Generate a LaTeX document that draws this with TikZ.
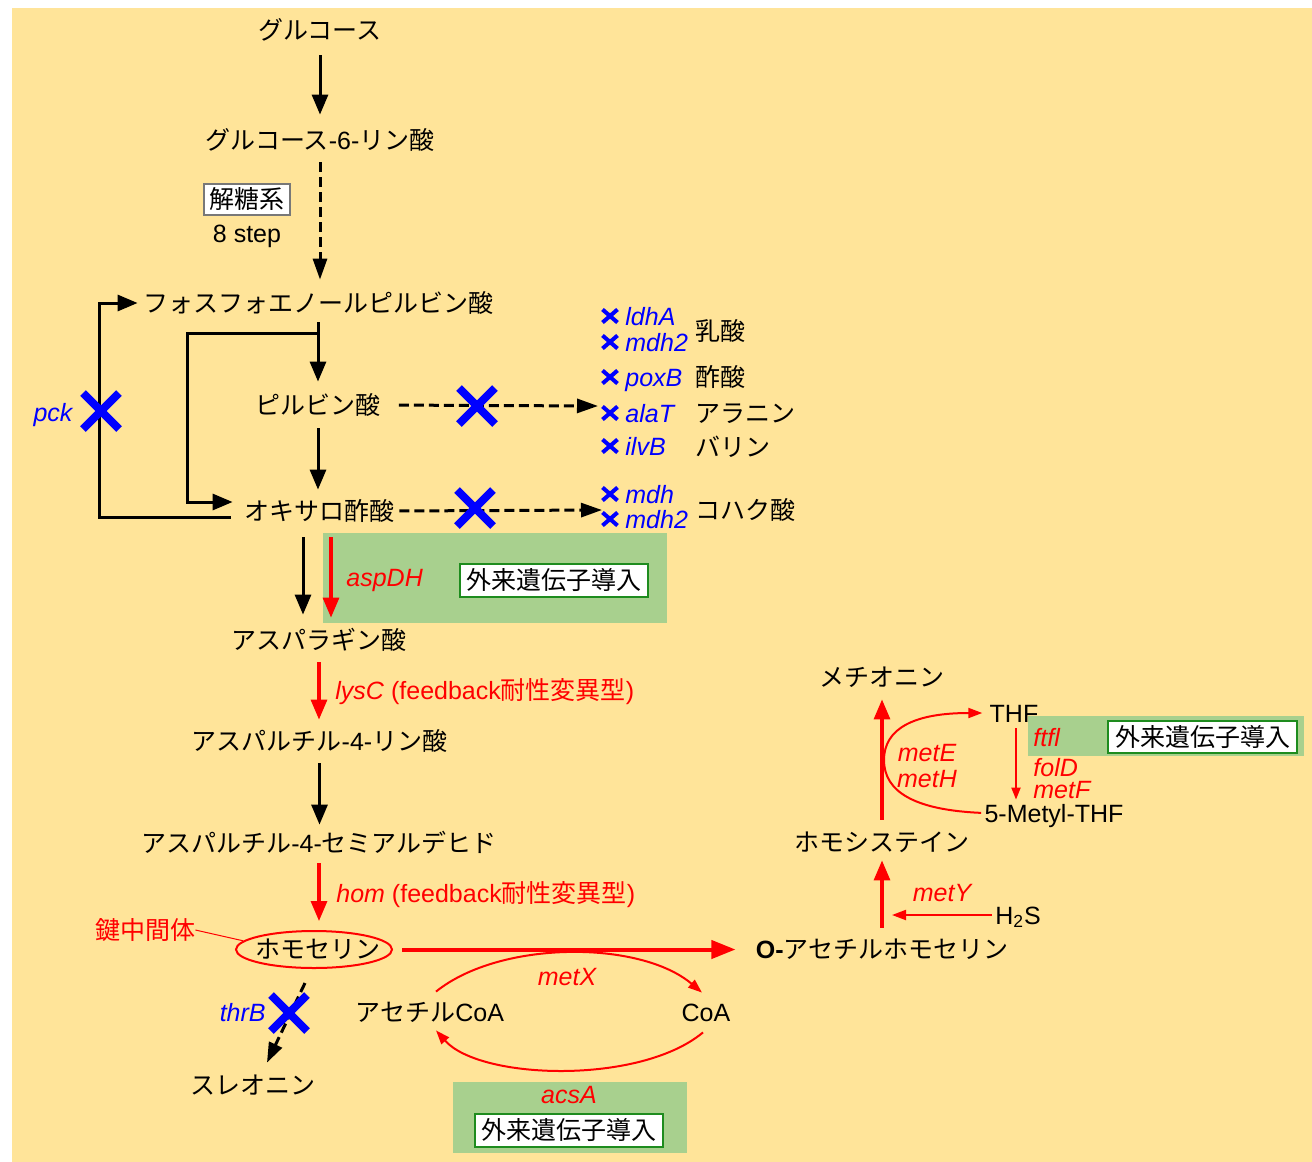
\documentclass[tikz,border=0pt]{standalone}
\usepackage{fontspec}
\setmainfont{Liberation Sans}
\newfontfamily\jpfont{Noto Sans CJK JP}
\usetikzlibrary{arrows.meta,shapes.geometric,calc}
\newcommand{\J}[1]{{\jpfont #1}}
\newcommand{\basefont}{\fontsize{12.5pt}{15pt}\selectfont}
\definecolor{bgyellow}{RGB}{255,228,153}
\definecolor{genegreen}{RGB}{168,208,142}
\definecolor{boxgreen}{RGB}{30,140,30}
\definecolor{kored}{RGB}{255,0,0}
\definecolor{koblue}{RGB}{0,0,255}
\definecolor{framegray}{RGB}{120,120,120}

\tikzset{
  lbl/.style={inner sep=0pt, font=\basefont, text height=11pt, text depth=2pt},
  redlbl/.style={lbl, text=kored, font=\basefont\itshape},
  bluelbl/.style={lbl, text=koblue, font=\basefont\itshape},
  introbox/.style={lbl, draw=boxgreen, line width=0.9pt, fill=white,
    minimum width=94pt, minimum height=16.5pt},
  blk/.style={line width=1.5pt, -{Triangle[length=10pt,width=8pt]}},
  blkdash/.style={line width=1.5pt, dash pattern=on 5pt off 2.5pt,
    -{Triangle[length=10.5pt,width=7pt]}},
  redthick/.style={line width=1.6pt, draw=kored, -{Triangle[length=10pt,width=8pt]}},
  redthin/.style={line width=1pt, draw=kored, -{Triangle[length=7pt,width=5pt]}},
  bigcross/.pic={\draw[koblue, line width=4pt] (-18,-18) -- (18,18) (-18,18) -- (18,-18);},
  smallcross/.pic={\draw[koblue, line width=2pt] (-7.5,-6.5) -- (7.5,6.5) (-7.5,6.5) -- (7.5,-6.5);}
}

\begin{document}
\begin{tikzpicture}[x=0.5pt, y=-0.5pt]
\useasboundingbox (0,0) rectangle (1312,1162);
\fill[bgyellow] (12,8) rectangle (1312,1162);

% panels marking introduced foreign genes
\fill[genegreen] (323,533) rectangle (667,623);
\fill[genegreen] (1028,716) rectangle (1304,756);
\fill[genegreen] (453,1082) rectangle (687,1153);

% main pathway metabolites
\node[lbl] (glc) at (320,30) {\J{グルコース}};
\node[lbl] (g6p) at (320,140) {\J{グルコース}-6-\J{リン酸}};
\node[lbl, draw=framegray, fill=white, line width=0.6pt, minimum width=43pt,
  minimum height=15.5pt] (glyco) at (247,199.5) {\J{解糖系}};
\node[lbl] (steps) at (247,233) {8 step};
\node[lbl] (pep) at (318,303) {\J{フォスフォエノールピルビン酸}};
\node[lbl] (pyr) at (318,405) {\J{ピルビン酸}};
\node[lbl] (oaa) at (319,511) {\J{オキサロ酢酸}};
\node[lbl] (asp) at (319,640) {\J{アスパラギン酸}};
\node[lbl] (asp4p) at (319.5,741) {\J{アスパルチル}-4-\J{リン酸}};
\node[lbl] (asa) at (319,843) {\J{アスパルチル}-4-\J{セミアルデヒド}};
\node[lbl] (hse) at (318,949) {\J{ホモセリン}};
\node[ellipse, draw=kored, line width=1pt, minimum width=78pt, minimum height=18.5pt,
  inner sep=0pt] (hsering) at (314,949.5) {};
\node[lbl, text=kored] (key) at (145,930) {\J{鍵中間体}};
\node[lbl] (thr) at (253,1085) {\J{スレオニン}};
\node[lbl] (oah) at (882,949) {\textbf{O-}\J{アセチルホモセリン}};
\node[lbl] (hcy) at (882,842) {\J{ホモシステイン}};
\node[lbl] (met) at (882,677) {\J{メチオニン}};
\node[lbl] (thf) at (1014,713) {THF};
\node[lbl] (mthf) at (1054,813) {5-Metyl-THF};
\node[lbl] (h2s) at (1018,915) {H\textsubscript{2}S};
\node[lbl] (accoa) at (430,1012) {\J{アセチル}CoA};
\node[lbl] (coa) at (706,1012) {CoA};

% deleted side pathways
\pic at (610,316) {smallcross};
\node[bluelbl, anchor=west] (ldhA) at (625,316) {ldhA};
\pic at (610,342) {smallcross};
\node[bluelbl, anchor=west] (mdhtwoA) at (625,342) {mdh2};
\pic at (610,377) {smallcross};
\node[bluelbl, anchor=west] (poxB) at (625,377) {poxB};
\pic at (610,413) {smallcross};
\node[bluelbl, anchor=west] (alaT) at (625,413) {alaT};
\pic at (610,446) {smallcross};
\node[bluelbl, anchor=west] (ilvB) at (625,446) {ilvB};
\pic at (610,494) {smallcross};
\node[bluelbl, anchor=west] (mdh) at (625,494) {mdh};
\pic at (610,519) {smallcross};
\node[bluelbl, anchor=west] (mdhtwoB) at (625,519) {mdh2};
\node[lbl, anchor=west] (lac) at (695,331) {\J{乳酸}};
\node[lbl, anchor=west] (ace) at (695,377) {\J{酢酸}};
\node[lbl, anchor=west] (ala) at (695,413) {\J{アラニン}};
\node[lbl, anchor=west] (val) at (695,447) {\J{バリン}};
\node[lbl, anchor=west] (suc) at (695,510) {\J{コハク酸}};

% gene labels
\node[redlbl, anchor=west] (aspdh) at (346,577) {aspDH};
\node[introbox] (introA) at (554,580.5) {\J{外来遺伝子導入}};
\node[lbl, anchor=west, text=kored] (lysc) at (335,690) {\textit{lysC} (feedback\J{耐性変異型})};
\node[lbl, anchor=west, text=kored] (hom) at (336,893) {\textit{hom} (feedback\J{耐性変異型})};
\node[redlbl] (metx) at (567,976) {metX};
\node[redlbl] (acsa) at (569,1094) {acsA};
\node[introbox] (introC) at (569,1130.5) {\J{外来遺伝子導入}};
\node[redlbl] (mety) at (942,892) {metY};
\node[redlbl, text height=10pt, text depth=0.5pt] (mete) at (927,752) {metE};
\node[redlbl, text height=10pt, text depth=0.5pt] (meth) at (927,778) {metH};
\node[redlbl, anchor=west] (ftfl) at (1033,737) {ftfl};
\node[introbox, minimum width=94.5pt, minimum height=16pt] (introB) at (1202.5,737) {\J{外来遺伝子導入}};
\node[redlbl, anchor=west, text height=10pt, text depth=0pt] (fold) at (1033,766) {folD};
\node[redlbl, anchor=west, text height=9.5pt, text depth=0pt] (metf) at (1033,789) {metF};
\node[bluelbl, anchor=east] (thrb) at (266,1012) {thrB};
\node[bluelbl] (pck) at (53,412) {pck};

% glycolysis and anaplerotic reactions
\draw[blk, shorten <=6pt, shorten >=6pt] (glc.south) -- (glc.south |- g6p.north);
\draw[blkdash, shorten <=4.5pt, shorten >=5pt] (g6p.south) -- (g6p.south |- pep.north);
\draw[blk, shorten <=3pt, shorten >=5pt] (pep.south) -- (pep.south |- pyr.north);
\draw[blk] ($(pep.south)+(0,17)$) -- ++(-131,0) |- ($(oaa.west)+(-11,-9)$);
\draw[blk] ($(oaa.west)+(-13,6)$) -- ++(-131,0) |- ($(pep.west)+(-5,0)$);
\draw[blk, shorten <=5pt, shorten >=4pt] (pyr.south) -- (pyr.south |- oaa.north);
\coordinate (pyrend) at (598,406);
\draw[blkdash, shorten <=9pt] (pyr.east) -- (pyrend);
\coordinate (oaaend) at (602,510);
\draw[blkdash, shorten <=2.5pt] (oaa.east) -- (oaaend);

% aspartate family
\draw[blk] ($(oaa.south)+(-16,13)$) -- ($(asp.north)+(-16,-12)$);
\draw[redthick] ($(oaa.south)+(12,13)$) -- ($(asp.north)+(12,-9)$);
\draw[redthick, shorten <=4.5pt, shorten >=4pt] (asp.south) -- (asp.south |- asp4p.north);
\draw[blk, shorten <=4.5pt, shorten >=2.5pt] (asp4p.south) -- (asp4p.south |- asa.north);
\draw[redthick, shorten <=3.5pt, shorten >=4.5pt] (asa.south) -- (asa.south |- hsering.north);
\draw[kored, line width=0.5pt] (key.east) -- (hsering.173);
\draw[redthick, line width=2pt, -{Triangle[length=12pt,width=9pt]}, shorten <=4.5pt, shorten >=10pt]
  (hsering.east) -- (hsering.east -| oah.west);
\draw[blkdash, -{Triangle[length=10pt,width=7pt]}] ($(hsering.south)+(-9,14)$) -- ($(thr.north)+(14,-9)$);

% acetyl-CoA recycling
\draw[redthin] ($(accoa.north)+(6,-7)$) .. controls (500,940) and (640,940) .. ($(coa.north)+(-4,-6)$);
\draw[redthin] ($(coa.south)+(-3,7)$) .. controls (640,1085) and (480,1080) .. ($(accoa.south)+(6,5)$);

% methionine branch
\coordinate (h2sin) at (892,915);
\draw[redthick, shorten <=4pt, shorten >=2.5pt] (oah.north) -- (oah.north |- hcy.south);
\draw[redthin, shorten <=1.5pt] (h2s.west) -- (h2sin);
\draw[redthick, shorten <=4.5pt, shorten >=4.5pt] (hcy.north) -- (hcy.north |- met.south);
\draw[redthin, shorten <=1.5pt, shorten >=3.5pt] (mthf.west) .. controls (915,810) and (884,792) .. (884,760)
  .. controls (884,728) and (915,713) .. (thf.west);
\draw[redthin, -{Triangle[length=6pt,width=4.5pt]}, shorten <=1pt] ($(thf.south)+(2,0)$) -- ($(thf.south |- mthf.north)+(2,0)$);

% knockouts
\pic at (477,406) {bigcross};
\pic at (475,508) {bigcross};
\pic at (101,411) {bigcross};
\pic at (289,1013) {bigcross};
\end{tikzpicture}
\end{document}
